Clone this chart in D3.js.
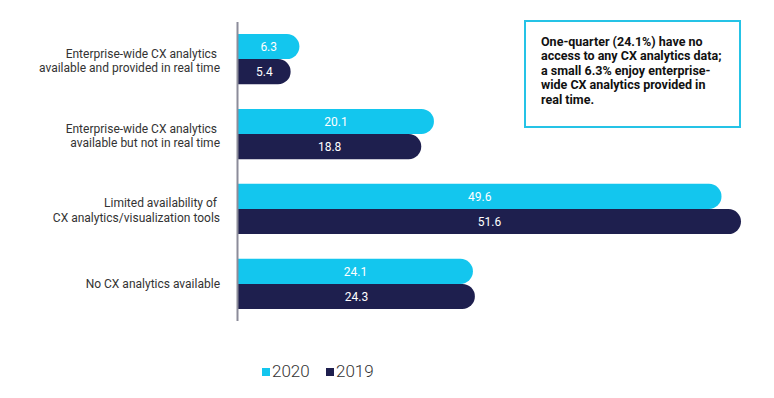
<!DOCTYPE html>
<html lang="en">
<head>
  <meta charset="UTF-8">
  <title>CX analytics availability</title>
  <script src="https://cdn.jsdelivr.net/npm/d3@7"></script>
  <style>
    html, body { margin: 0; padding: 0; background: #ffffff; }
    svg { display: block; font-family: Roboto, "Noto Sans", sans-serif; }
    .cat { fill: #333333; font-size: 12px; }
    .val { fill: #ffffff; font-size: 12px; text-anchor: middle; }
    .legend { fill: #333333; font-size: 17px; font-weight: 300; }
    .note { fill: #111111; font-size: 12.5px; font-weight: bold; }
  </style>
</head>
<body>
  <div class="chart"></div>
  <script>
    // data
    const categories = [
      "Enterprise-wide CX analytics \navailable and provided in real time",
      "Enterprise-wide CX analytics \navailable but not in real time",
      "Limited availability of \nCX analytics/visualization tools",
      "No CX analytics available"
    ];
    const years = ["2020", "2019"];
    const values2020 = [6.3, 20.1, 49.6, 24.1];
    const values2019 = [5.4, 18.8, 51.6, 24.3];
    const noteLines = [
      "One-quarter (24.1%) have no",
      "access to any CX analytics data;",
      "a small 6.3% enjoy enterprise-",
      "wide CX analytics provided in",
      "real time."
    ];

    const colors = { "2020": "#13c6ee", "2019": "#1e1f4e" };
    const width = 774, height = 398;

    const svg = d3.select(".chart")
      .append("svg")
      .attr("width", width)
      .attr("height", height);

    const x = d3.scaleLinear()
      .domain([0, 51.6])
      .range([238, 741]);

    const y = d3.scaleBand()
      .domain(categories)
      .range([22, 321])
      .paddingInner(0.33)
      .paddingOuter(0.16);

    const sub = d3.scaleBand()
      .domain(years)
      .range([0, y.bandwidth()]);

    const rows = categories.map(function(c, i) {
      return { cat: c, vals: [ { year: "2020", v: values2020[i] }, { year: "2019", v: values2019[i] } ] };
    });

    // bar with rounded right end
    function barPath(x0, x1, y0, h) {
      const r = h / 2;
      return "M" + x0 + "," + y0 +
        "H" + (x1 - r) +
        "A" + r + "," + r + " 0 0 1 " + (x1 - r) + "," + (y0 + h) +
        "H" + x0 + "Z";
    }

    const groups = svg.selectAll(".group")
      .data(rows)
      .enter()
      .append("g")
      .attr("class", "group")
      .attr("transform", function(d) { return "translate(0," + y(d.cat) + ")"; });

    groups.selectAll("path")
      .data(function(d) { return d.vals; })
      .enter()
      .append("path")
      .attr("fill", function(d) { return colors[d.year]; })
      .attr("d", function(d) {
        return barPath(x(0), x(d.v), sub(d.year), sub.bandwidth());
      });

    groups.selectAll(".val")
      .data(function(d) { return d.vals; })
      .enter()
      .append("text")
      .attr("class", "val")
      .attr("x", function(d) { return (x(0) + x(d.v)) / 2; })
      .attr("y", function(d) { return sub(d.year) + sub.bandwidth() / 2 + 4.5; })
      .text(function(d) { return d.v.toFixed(1); });

    // category labels
    groups.each(function(d) {
      const lines = d.cat.split("\n");
      const c = y.bandwidth() / 2;
      const t = d3.select(this).append("text")
        .attr("class", "cat")
        .attr("text-anchor", "end")
        .attr("xml:space", "preserve");
      lines.forEach(function(line, i) {
        t.append("tspan")
          .attr("x", 220)
          .attr("y", c + 4 - (lines.length - 1) * 5.5 + i * 14.5)
          .text(line);
      });
    });

    // axis line
    svg.append("line")
      .attr("x1", 237.5).attr("x2", 237.5)
      .attr("y1", y.range()[0]).attr("y2", y.range()[1])
      .attr("stroke", "#8c8c9a")
      .attr("stroke-width", 2);

    // legend
    const legend = svg.selectAll(".leg")
      .data(years)
      .enter()
      .append("g")
      .attr("class", "leg")
      .attr("transform", function(d, i) { return "translate(" + (262 + i * 64) + ",368)"; });

    legend.append("rect")
      .attr("width", 8).attr("height", 8)
      .attr("fill", function(d) { return colors[d]; });

    legend.append("text")
      .attr("class", "legend")
      .attr("x", 10)
      .attr("y", 8.5)
      .text(function(d) { return d; });

    // annotation box
    svg.append("rect")
      .attr("x", 525).attr("y", 21)
      .attr("width", 215).attr("height", 106)
      .attr("fill", "none")
      .attr("stroke", "#25c3e6")
      .attr("stroke-width", 2);

    svg.append("text")
      .attr("class", "note")
      .selectAll("tspan")
      .data(noteLines)
      .enter()
      .append("tspan")
      .attr("x", 541)
      .attr("y", function(d, i) { return 46 + i * 14.4; })
      .text(function(d) { return d; });
  </script>
</body>
</html>
